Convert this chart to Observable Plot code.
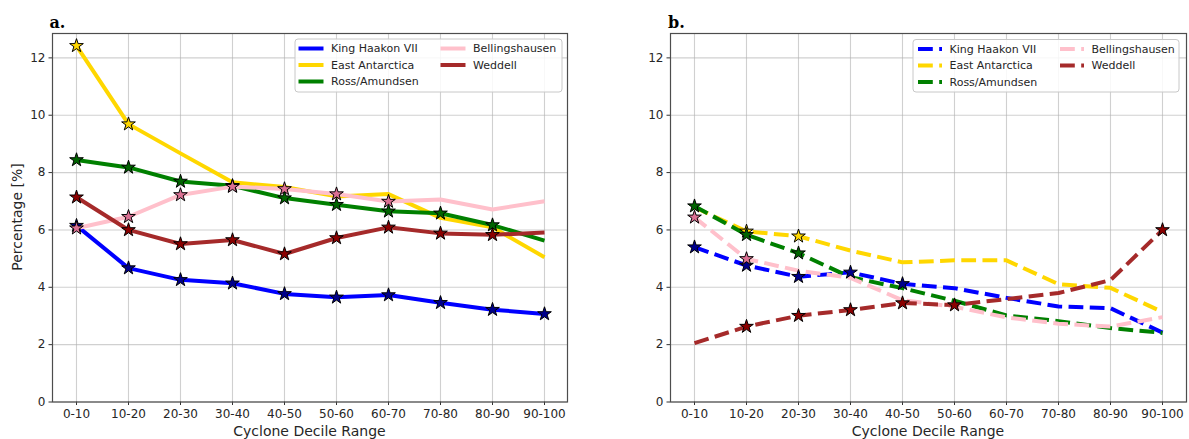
<!DOCTYPE html>
<html><head><meta charset="utf-8">
<script src="https://cdn.jsdelivr.net/npm/d3@7"></script>
<script src="https://cdn.jsdelivr.net/npm/@observablehq/plot@0.6"></script>
<style>
html,body{margin:0;padding:0;background:#fff;}
#wrap{position:relative;width:1189px;height:439px;overflow:hidden;background:#fff;}
#wrap svg{position:absolute;top:0;}
</style></head><body><div id="wrap"></div>
<script>
const deciles = ["0-10","10-20","20-30","30-40","40-50","50-60","60-70","70-80","80-90","90-100"];
const regions = ["King Haakon VII","East Antarctica","Ross/Amundsen","Bellingshausen","Weddell"];
const lineColors = ["#0000ff","#ffd700","#008000","#ffc0cb","#a52a2a"];
const starColors = ["#00008b","#ffd700","#006400","#db7093","#8b0000"];
const yTicks = [0,2,4,6,8,10,12];

// Panel a values (%)
const aKingHaakon    = [6.15, 4.67, 4.26, 4.14, 3.77, 3.65, 3.73, 3.46, 3.22, 3.07];
const aEastAntarctica= [12.42, 9.69, 8.67, 7.66, 7.50, 7.17, 7.25, 6.42, 6.09, 5.05];
const aRossAmundsen  = [8.44, 8.18, 7.69, 7.54, 7.11, 6.88, 6.65, 6.58, 6.17, 5.63];
const aBellingshausen= [6.06, 6.46, 7.22, 7.51, 7.43, 7.25, 6.99, 7.06, 6.71, 7.00];
const aWeddell       = [7.14, 6.00, 5.51, 5.65, 5.16, 5.72, 6.09, 5.88, 5.83, 5.91];
// Panel a star flags
const aStarKingHaakon    = [1,1,1,1,1,1,1,1,1,1];
const aStarEastAntarctica= [1,1,0,0,0,0,0,0,0,0];
const aStarRossAmundsen  = [1,1,1,1,1,1,1,1,1,0];
const aStarBellingshausen= [1,1,1,1,1,1,1,0,0,0];
const aStarWeddell       = [1,1,1,1,1,1,1,1,1,0];

// Panel b values (%)
const bKingHaakon    = [5.40, 4.76, 4.37, 4.52, 4.12, 3.97, 3.63, 3.33, 3.27, 2.42];
const bEastAntarctica= [6.79, 5.95, 5.78, 5.28, 4.87, 4.94, 4.94, 4.11, 3.98, 3.14];
const bRossAmundsen  = [6.83, 5.83, 5.19, 4.35, 3.97, 3.53, 3.02, 2.82, 2.58, 2.41];
const bBellingshausen= [6.44, 4.99, 4.58, 4.33, 3.55, 3.32, 2.95, 2.73, 2.63, 2.96];
const bWeddell       = [2.05, 2.63, 3.01, 3.21, 3.45, 3.38, 3.59, 3.80, 4.25, 6.00];
// Panel b star flags
const bStarKingHaakon    = [1,1,1,1,1,0,0,0,0,0];
const bStarEastAntarctica= [0,1,1,0,0,0,0,0,0,0];
const bStarRossAmundsen  = [1,1,1,0,0,0,0,0,0,0];
const bStarBellingshausen= [1,1,0,0,0,0,0,0,0,0];
const bStarWeddell       = [0,1,1,1,1,1,0,0,0,1];

function buildRows(series, stars) {
  const rows = [];
  series.forEach((vals, i) => vals.forEach((v, j) => rows.push({decile: deciles[j], region: regions[i], value: v, star: !!stars[i][j]})));
  return rows;
}
const rowsA = buildRows([aKingHaakon,aEastAntarctica,aRossAmundsen,aBellingshausen,aWeddell],
                        [aStarKingHaakon,aStarEastAntarctica,aStarRossAmundsen,aStarBellingshausen,aStarWeddell]);
const rowsB = buildRows([bKingHaakon,bEastAntarctica,bRossAmundsen,bBellingshausen,bWeddell],
                        [bStarKingHaakon,bStarEastAntarctica,bStarRossAmundsen,bStarBellingshausen,bStarWeddell]);

const DASH = "14.8,6.4";
const wrap = document.getElementById("wrap");

function panel({rows, left, width, marginLeft, marginRight, dashed, title, legend, yLabel}) {
  const gridStyle = {stroke: "#b0b0b0", strokeOpacity: 0.6, strokeWidth: 1.1};
  const svg = Plot.plot({
    width, height: 439,
    marginTop: 33, marginBottom: 37.5, marginLeft, marginRight,
    style: {fontFamily: "'DejaVu Sans', sans-serif", fontSize: "12px", color: "#262626", background: "transparent", overflow: "visible"},
    x: {type: "point", domain: deciles, padding: 0.45},
    y: {domain: [0, 12.85]},
    color: {domain: regions, range: lineColors},
    marks: [
      Plot.gridX(deciles, gridStyle),
      Plot.gridY(yTicks, gridStyle),
      Plot.axisX(deciles, {tickSize: 3.5, tickPadding: 3.5, label: null, fontSize: 12, stroke: "#333"}),
      Plot.axisY(yTicks, {tickSize: 3.5, tickPadding: 3.5, label: null, fontSize: 12, stroke: "#333"}),
      Plot.line(rows, {x: "decile", y: "value", z: "region", stroke: "region", strokeWidth: 4,
        strokeDasharray: dashed ? DASH : null, strokeLinejoin: "round", strokeLinecap: "butt"}),
      ...regions.map((r, i) => Plot.dot(rows.filter(d => d.region === r && d.star),
        {x: "decile", y: "value", symbol: "star", r: 4.3, fill: starColors[i], fillOpacity: 1, stroke: "black", strokeWidth: 1})),
      Plot.frame({stroke: "#4d4d4d", strokeWidth: 1.2})
    ]
  });
  svg.style.left = left + "px";
  const s = d3.select(svg);
  // panel title
  s.append("text").attr("x", title.x).attr("y", 28).attr("text-anchor", "start").attr("font-family", "'DejaVu Serif', serif")
    .attr("font-weight", "bold").attr("font-size", 16).attr("fill", "#000").text(title.text);
  // x label
  const cx = (marginLeft + width - marginRight) / 2;
  s.append("text").attr("x", cx).attr("y", 435.5).attr("text-anchor", "middle")
    .attr("font-family", "'DejaVu Sans', sans-serif").attr("font-size", 14).attr("fill", "#262626").text("Cyclone Decile Range");
  if (yLabel) {
    s.append("text").attr("transform", `translate(22,217) rotate(-90)`).attr("text-anchor", "middle")
      .attr("font-family", "'DejaVu Sans', sans-serif").attr("font-size", 14).attr("fill", "#262626").text(yLabel);
  }
  // legend
  const L = legend;
  const g = s.append("g").attr("font-family", "'DejaVu Sans', sans-serif").attr("font-size", 11).attr("fill", "#262626").attr("text-anchor", "start");
  g.append("rect").attr("x", L.x).attr("y", L.y).attr("width", L.w).attr("height", L.h).attr("rx", 3)
    .attr("fill", "#fff").attr("fill-opacity", 0.85).attr("stroke", "#c8c8c8").attr("stroke-width", 1);
  const rowsY = [L.y + 9.5, L.y + 26, L.y + 42.5];
  regions.forEach((r, i) => {
    const col = i < 3 ? 0 : 1;
    const row = i < 3 ? i : i - 3;
    const hx = L.hx[col], y = rowsY[row];
    g.append("line").attr("x1", hx).attr("x2", hx + L.hl).attr("y1", y).attr("y2", y)
      .attr("stroke", lineColors[i]).attr("stroke-width", 4)
      .attr("stroke-dasharray", dashed ? DASH : null);
    g.append("text").attr("x", hx + L.hl + 7.5).attr("y", y).attr("dy", "0.36em").attr("text-anchor", "start").text(r);
  });
  wrap.appendChild(svg);
}

panel({rows: rowsA, left: 0, width: 594, marginLeft: 52, marginRight: 27, dashed: false,
  title: {x: 49.5, text: "a."}, yLabel: "Percentage [%]",
  legend: {x: 295, y: 39, w: 267, h: 53, hx: [298.5, 440.5], hl: 25}});
panel({rows: rowsB, left: 594, width: 595, marginLeft: 76, marginRight: 3, dashed: true,
  title: {x: 74, text: "b."}, yLabel: null,
  legend: {x: 319, y: 39.5, w: 266, h: 52.5, hx: [324, 466], hl: 24}});
</script></body></html>
